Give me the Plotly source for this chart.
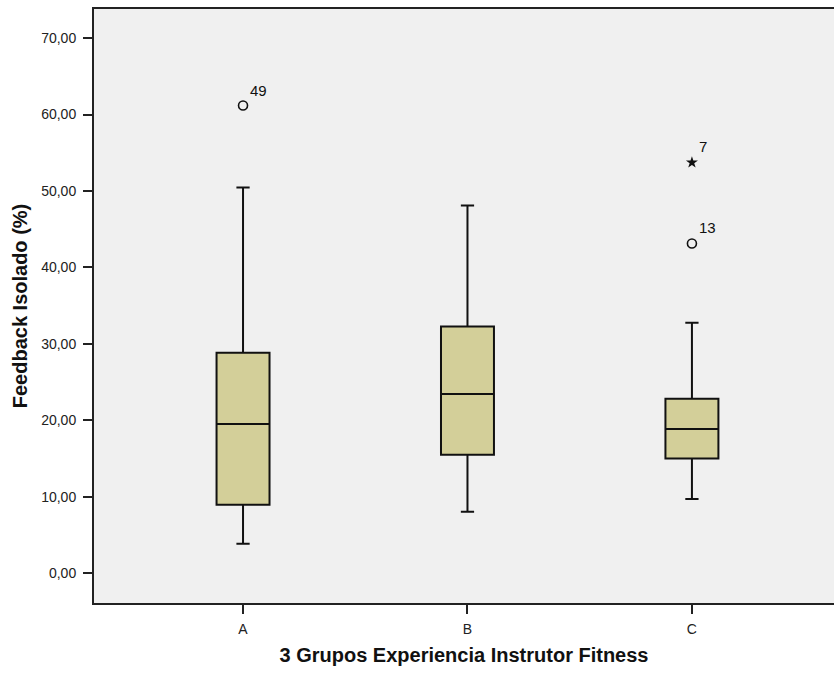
import plotly.graph_objects as go

# ---- data ----
categories = ["A", "B", "C"]
cat_pos = [0, 1, 2]
q1 = [8.98, 15.52, 15.03]
median = [19.53, 23.45, 18.88]
q3 = [28.85, 32.29, 22.84]
lower_whisker = [3.88, 8.07, 9.72]
upper_whisker = [50.46, 48.10, 32.77]

outlier_pos = [0, 2]
outlier_vals = [61.18, 43.14]
outlier_ids = ["49", "13"]

extreme_pos = [2]
extreme_vals = [53.73]
extreme_ids = ["7"]

y_tickvals = [0, 10, 20, 30, 40, 50, 60, 70]
y_ticktext = ["0,00", "10,00", "20,00", "30,00", "40,00", "50,00", "60,00", "70,00"]

FONT = "Liberation Sans, Arial, sans-serif"

fig = go.Figure()
fig.add_trace(go.Box(
    x=cat_pos, q1=q1, median=median, q3=q3,
    lowerfence=lower_whisker, upperfence=upper_whisker,
    width=0.236, whiskerwidth=0.25,
    fillcolor="#d3cf99", line=dict(color="#111111", width=2),
    boxpoints=False, showlegend=False, hoverinfo="skip",
))
fig.add_trace(go.Scatter(
    x=outlier_pos, y=outlier_vals, mode="markers",
    marker=dict(symbol="circle-open", size=9, color="#111111", line=dict(width=1.6)),
    showlegend=False, hoverinfo="skip",
))
fig.add_trace(go.Scatter(
    x=extreme_pos, y=extreme_vals, mode="markers",
    marker=dict(symbol="star", size=9, color="#111111", line=dict(width=0)),
    showlegend=False, hoverinfo="skip",
))

for xp, yv, t in list(zip(outlier_pos, outlier_vals, outlier_ids)) + list(zip(extreme_pos, extreme_vals, extreme_ids)):
    fig.add_annotation(x=xp, y=yv, text=t, showarrow=False,
                       xanchor="left", yanchor="bottom", xshift=5, yshift=5,
                       font=dict(family=FONT, size=15, color="#111111"))

fig.update_layout(
    width=834, height=675,
    margin=dict(l=94, r=0, t=9, b=72),
    paper_bgcolor="white", plot_bgcolor="#f0f0f0",
    font=dict(family=FONT, color="#222222"),
)
fig.update_xaxes(
    range=[-0.664, 2.633],
    tickvals=cat_pos, ticktext=categories,
    showline=True, linecolor="#222222", linewidth=2, mirror=True,
    ticks="outside", ticklen=9, tickwidth=2, tickcolor="#222222",
    showgrid=False, zeroline=False,
    tickfont=dict(family=FONT, size=14, color="#222222"),
    ticklabelstandoff=3,
    title=dict(text="<b>3 Grupos Experiencia Instrutor Fitness</b>",
               font=dict(family=FONT, size=20, color="#111111"), standoff=12),
)
fig.update_yaxes(
    range=[-3.87, 73.8],
    tickvals=y_tickvals, ticktext=y_ticktext,
    showline=True, linecolor="#222222", linewidth=2,
    ticks="outside", ticklen=9, tickwidth=2, tickcolor="#222222",
    showgrid=False, zeroline=False,
    tickfont=dict(family=FONT, size=14, color="#222222"),
    ticklabelstandoff=4,
    title=dict(text="<b>Feedback Isolado (%)</b>",
               font=dict(family=FONT, size=20, color="#111111"), standoff=8),
)

fig.write_html("out.html")
